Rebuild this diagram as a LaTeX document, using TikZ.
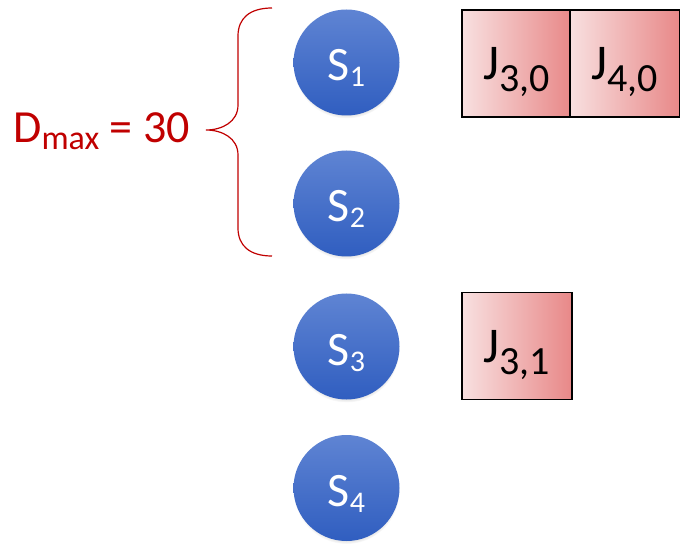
\documentclass[tikz,border=0pt]{standalone}
\usepackage{fontspec}
\setmainfont{Carlito}
\usetikzlibrary{shadows}

\definecolor{braceRed}{HTML}{C00000}
\definecolor{sTop}{HTML}{5F84D3}
\definecolor{sBottom}{HTML}{305EC0}
\definecolor{jLeft}{HTML}{F8E0E0}
\definecolor{jRight}{HTML}{E88888}

% text with a lowered subscript: base, sub, shift, size
\newcommand{\sublbl}[4]{#1\raisebox{#3}{\fontsize{#4}{#4}\selectfont #2}}

\tikzset{
  server/.style={circle, inner sep=0pt, minimum size=106pt,
    top color=sTop, bottom color=sBottom, text=white,
    font=\fontsize{48}{48}\selectfont, text height=40pt, text depth=3pt,
    circular drop shadow={shadow xshift=0pt, shadow yshift=-3pt, shadow scale=1.0, opacity=0.45}},
  job/.style={rectangle, draw=black, line width=1.8pt, inner sep=0pt,
    minimum width=110pt, minimum height=107pt,
    left color=jLeft, right color=jRight,
    font=\fontsize{50}{50}\selectfont, text height=40pt, text depth=7pt},
}

\begin{document}
\begin{tikzpicture}[x=1pt,y=-1pt]
    \useasboundingbox (0,0) rectangle (680,545);

    \node[server] (s1) at (346.5,62.5) {\sublbl{S}{1}{-6pt}{30}};
    \node[server] (s2) at (346.5,203.5) {\sublbl{S}{2}{-6pt}{30}};
    \node[server] (s3) at (346.5,346.5) {\sublbl{S}{3}{-6pt}{30}};
    \node[server] (s4) at (346.5,488) {\sublbl{S}{4}{-6pt}{30}};

    \node[job] (j30) at (517,63.5) {\sublbl{J}{3,0}{-12pt}{40}};
    \node[job] (j40) at (625,63.5) {\sublbl{J}{4,0}{-12pt}{40}};
    \node[job] (j31) at (517,346) {\sublbl{J}{3,1}{-12pt}{40}};

    % brace over S1 and S2
    \draw[braceRed, line width=1.2pt]
      (272,8) .. controls (250,8) and (238,18) .. (238,36)
      -- (238,105) .. controls (238,122) and (222,130) .. (206,130)
      .. controls (222,130) and (238,138) .. (238,155)
      -- (238,228) .. controls (238,246) and (250,256) .. (272,256);

    \node[anchor=base west, inner sep=0pt, text=braceRed,
      font=\fontsize{46}{46}\selectfont] (dmax) at (13,143)
      {\sublbl{D}{max}{-7pt}{34} = 30};
\end{tikzpicture}
\end{document}
